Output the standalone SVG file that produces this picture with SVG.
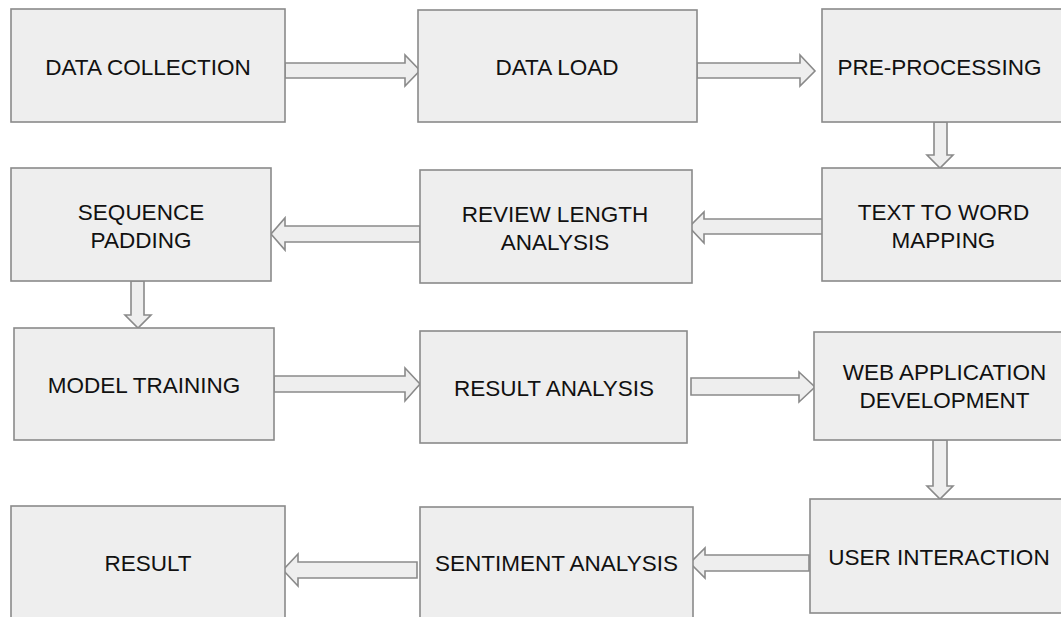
<svg xmlns="http://www.w3.org/2000/svg" width="1061" height="617" viewBox="0 0 1061 617">
<style>
.box{fill:#eeeeee;stroke:#8a8a8a;stroke-width:1.6}
.arr{fill:#eeeeee;stroke:#8a8a8a;stroke-width:1.6;stroke-linejoin:miter}
.t{font-family:"Liberation Sans",Arial,sans-serif;font-size:22.5px;fill:#111;text-anchor:middle}
</style>
<rect width="1061" height="617" fill="#ffffff"/>
<g id="connectors">
<polygon class="arr" points="285,63 405,63 405,55 420,70.5 405,86 405,78 285,78"/>
<polygon class="arr" points="697,63 800,63 800,55 815,71 800,86 800,78 697,78"/>
<polygon class="arr" points="934,122 947,122 947,155 953,155 940,168 927,155 934,155"/>
<polygon class="arr" points="823,219 704,219 704,212 689,227 704,243 704,234 823,234"/>
<polygon class="arr" points="420,226 285,226 285,218 271,234 285,250 285,242 420,242"/>
<polygon class="arr" points="131,281 144,281 144,315 151,315 138,328 125,315 131,315"/>
<polygon class="arr" points="274,376 405,376 405,368 420,384 405,401 405,392 274,392"/>
<polygon class="arr" points="691,378 799,378 799,372 815,387 799,402 799,395 691,395"/>
<polygon class="arr" points="933,440 947,440 947,486 953,486 940,499 927,486 933,486"/>
<polygon class="arr" points="809,555 705,555 705,548 690,563 705,578 705,571 809,571"/>
<polygon class="arr" points="417,562 298,562 298,554 283,570 298,586 298,578 417,578"/>
</g>
<g id="n1"><rect class="box" x="11" y="9" width="274" height="113"/><text class="t" x="148" y="75">DATA COLLECTION</text></g>
<g id="n2"><rect class="box" x="418" y="10" width="279" height="112"/><text class="t" x="557" y="75">DATA LOAD</text></g>
<g id="n3"><rect class="box" x="822" y="9" width="245" height="113"/><text class="t" x="939.5" y="75">PRE-PROCESSING</text></g>
<g id="n4"><rect class="box" x="822" y="168" width="245" height="113"/><text class="t" x="943.5" y="220">TEXT TO WORD</text><text class="t" x="943.5" y="248">MAPPING</text></g>
<g id="n5"><rect class="box" x="420" y="170" width="272" height="113"/><text class="t" x="555" y="222">REVIEW LENGTH</text><text class="t" x="555" y="250">ANALYSIS</text></g>
<g id="n6"><rect class="box" x="11" y="168" width="260" height="113"/><text class="t" x="141" y="220">SEQUENCE</text><text class="t" x="141" y="248">PADDING</text></g>
<g id="n7"><rect class="box" x="14" y="328" width="260" height="112"/><text class="t" x="144" y="393">MODEL TRAINING</text></g>
<g id="n8"><rect class="box" x="420" y="331" width="267" height="112"/><text class="t" x="554" y="396">RESULT ANALYSIS</text></g>
<g id="n9"><rect class="box" x="814" y="332" width="253" height="108"/><text class="t" x="944.5" y="380">WEB APPLICATION</text><text class="t" x="944.5" y="408">DEVELOPMENT</text></g>
<g id="n10"><rect class="box" x="810" y="499" width="257" height="114"/><text class="t" x="939" y="565">USER INTERACTION</text></g>
<g id="n11"><rect class="box" x="420" y="507" width="273" height="120"/><text class="t" x="556.5" y="571">SENTIMENT ANALYSIS</text></g>
<g id="n12"><rect class="box" x="11" y="506" width="274" height="121"/><text class="t" x="148" y="571">RESULT</text></g>
</svg>
